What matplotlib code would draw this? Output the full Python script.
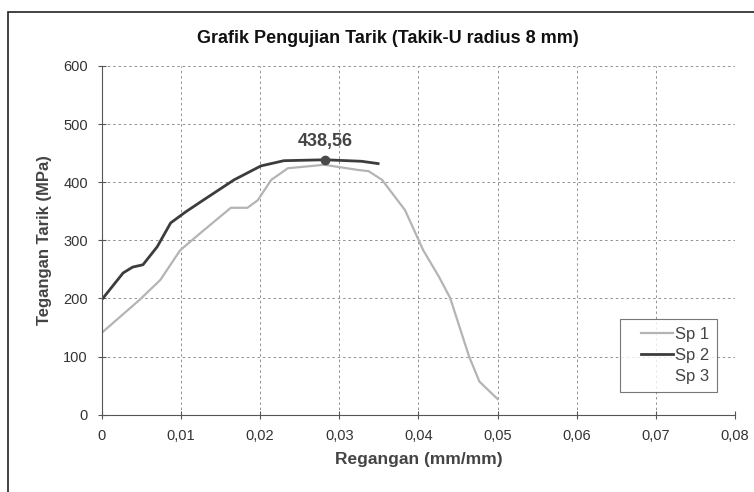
import matplotlib
matplotlib.use("Agg")
import matplotlib.pyplot as plt
from matplotlib.ticker import FuncFormatter, MultipleLocator
from matplotlib.patches import Rectangle
from matplotlib.lines import Line2D
from matplotlib.legend_handler import HandlerLine2D

plt.rcParams['font.family'] = ['Liberation Sans', 'DejaVu Sans']

# Sp 1 (light grey)
sp1_x = [0.0, 0.0048, 0.0074, 0.0099, 0.0125, 0.0163, 0.0184, 0.0197, 0.0214,
         0.0235, 0.0281, 0.0324, 0.0337, 0.0354, 0.0383, 0.0406, 0.0426, 0.0440,
         0.0464, 0.0477, 0.0500]
sp1_y = [141, 198, 232, 283, 313, 356, 356, 369, 404,
         424, 430, 421, 419, 404, 352, 283, 237, 201,
         100, 57, 27]

# Sp 2 (dark)
sp2_x = [0.0, 0.0027, 0.0039, 0.0052, 0.0070, 0.0087, 0.0106, 0.0128, 0.0167,
         0.0201, 0.0230, 0.0282, 0.0328, 0.0349]
sp2_y = [198, 244, 254, 258, 289, 330, 349, 369, 404,
         428, 437, 438.56, 436, 432]

peak_x = 0.0282
peak_y = 438.56

fig = plt.figure(figsize=(7.54, 4.92), dpi=100)
ax = fig.add_axes([0.135, 0.157, 0.84, 0.709])

ax.plot(sp1_x, sp1_y, color='#b4b4b4', lw=1.6, label='Sp 1')
ax.plot(sp2_x, sp2_y, color='#3c3c3c', lw=2.0, label='Sp 2')
ax.plot([], [], ls='none', label='Sp 3')
ax.plot([peak_x], [peak_y], 'o', color='#4a4a4a', ms=6)
ax.annotate('438,56', (peak_x, peak_y), xytext=(0, 7), textcoords='offset points',
            ha='center', va='bottom', fontsize=13, fontweight='bold', color='#444444')

ax.set_xlim(0, 0.08)
ax.set_ylim(0, 600)
ax.xaxis.set_major_locator(MultipleLocator(0.01))
ax.yaxis.set_major_locator(MultipleLocator(100))
ax.xaxis.set_major_formatter(FuncFormatter(lambda v, p: '0' if v == 0 else f'{v:.2f}'.replace('.', ',')))
ax.grid(True, ls=(0, (2.5, 3)), color='#8f8f8f', lw=0.7)

for s in ['top', 'right']:
    ax.spines[s].set_visible(False)
for s in ['left', 'bottom']:
    ax.spines[s].set_color('#555555')
    ax.spines[s].set_linewidth(0.8)
ax.tick_params(direction='inout', length=6, width=0.8, color='#555555',
               labelsize=10.5, labelcolor='#333333', pad=7)

ax.set_xlabel('Regangan (mm/mm)', fontsize=12.5, fontweight='bold', color='#444444', labelpad=7)
ax.set_ylabel('Tegangan Tarik (MPa)', fontsize=12, fontweight='bold', color='#444444', labelpad=8)
fig.text(0.515, 0.922, 'Grafik Pengujian Tarik (Takik-U radius 8 mm)',
         ha='center', va='center', fontsize=13, fontweight='bold', color='#111111')

leg = ax.legend(loc='lower right', bbox_to_anchor=(0.9716, 0.066), borderaxespad=0,
                fontsize=12, frameon=True, fancybox=False, handlelength=2.7,
                handletextpad=0.15, borderpad=0.45, labelspacing=0.38,
                handler_map={Line2D: HandlerLine2D(xpad=0.8)})
leg.get_frame().set_edgecolor('#555555')
leg.get_frame().set_linewidth(0.8)
for t in leg.get_texts():
    t.set_color('#444444')

fig.patches.append(Rectangle((0.011, -0.1), 1.2, 1.075, transform=fig.transFigure,
                             fill=False, edgecolor='#222222', lw=1.2))

fig.savefig('out.png', dpi=100)
